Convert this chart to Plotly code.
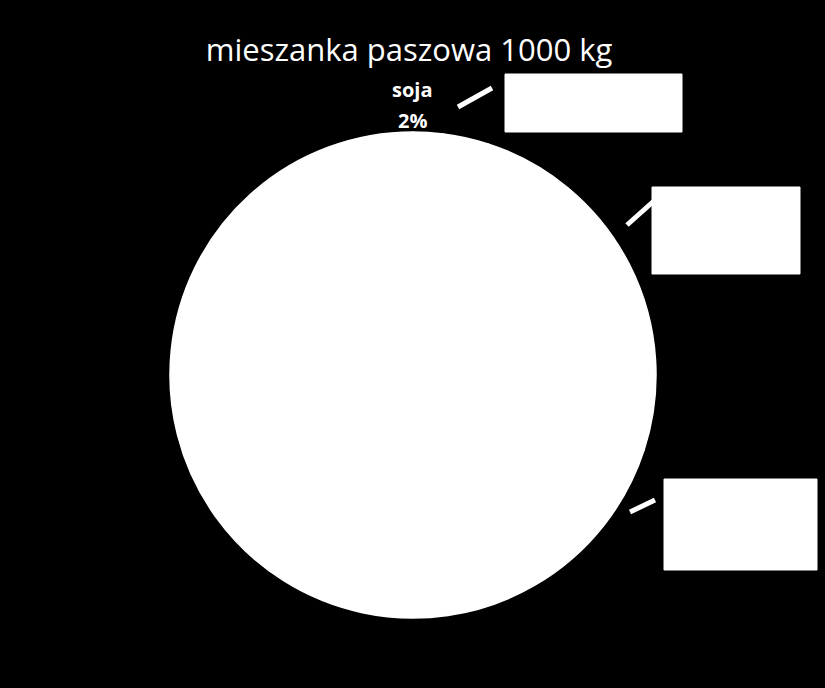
import plotly.graph_objects as go

# Feed mix composition (only "soja 2%" is legible in the original)
components = ['soja', 'pszenica', 'jęczmień', 'kukurydza']
shares = [2, 3, 25, 70]

W, H = 825, 688


def px(x, y):
    # pixel -> paper coordinates
    return x / W, 1 - y / H


fig = go.Figure(go.Pie(
    labels=components,
    values=shares,
    sort=False,
    direction='clockwise',
    rotation=0,
    textinfo='none',
    hoverinfo='skip',
    marker=dict(colors=['white'] * len(components), line=dict(color='white', width=1.5)),
    domain=dict(x=[170 / W, 656 / W], y=[1 - 618 / H, 1 - 132 / H]),
    showlegend=False,
))

# white label boxes (x0, y0, x1, y1) for the other components, in pixels
boxes = [(505, 74, 682, 132), (652, 187, 800, 274), (664, 479, 817, 570)]
# leader lines from the pie edge to each box
leaders = [(458, 107, 492, 88), (627, 225, 655, 200), (630, 512, 655, 500)]

shapes = []
for (x0, y0, x1, y1) in boxes:
    a, b = px(x0, y1)
    c, d = px(x1, y0)
    shapes.append(dict(type='rect', xref='paper', yref='paper', x0=a, y0=b, x1=c, y1=d,
                       fillcolor='white', line=dict(color='white', width=1)))
for (x0, y0, x1, y1) in leaders:
    a, b = px(x0, y0)
    c, d = px(x1, y1)
    shapes.append(dict(type='line', xref='paper', yref='paper', x0=a, y0=b, x1=c, y1=d,
                       line=dict(color='white', width=5)))

annotations = []
# the visible label for soja
for txt, ypx in [(components[0], 89), (f'{shares[0]}%', 121)]:
    sx, sy = px(412, ypx)
    annotations.append(dict(text=f'<b>{txt}</b>', x=sx, y=sy, xref='paper', yref='paper',
                            xanchor='center', yanchor='middle', showarrow=False,
                            font=dict(size=20, color='white', family='Open Sans')))
# labels inside the white boxes (white on white, as in the original)
for name, val, (x0, y0, x1, y1) in zip(components[1:], shares[1:], boxes):
    cx, cy = px((x0 + x1) / 2, (y0 + y1) / 2)
    annotations.append(dict(text=f'{name} {val}%', x=cx, y=cy, xref='paper', yref='paper',
                            xanchor='center', yanchor='middle', showarrow=False,
                            font=dict(size=12, color='white', family='Open Sans')))

fig.update_layout(
    width=W, height=H,
    paper_bgcolor='black',
    plot_bgcolor='black',
    margin=dict(l=0, r=0, t=0, b=0),
    title=dict(text='mieszanka paszowa 1000 kg', x=409 / W, xanchor='center',
               y=1 - 50 / H, yanchor='middle',
               font=dict(size=31, color='white', family='Open Sans')),
    shapes=shapes,
    annotations=annotations,
)

fig.write_html('out.html', config={'displayModeBar': False},
               post_script="document.body.style.margin='0';document.body.style.background='black';")
